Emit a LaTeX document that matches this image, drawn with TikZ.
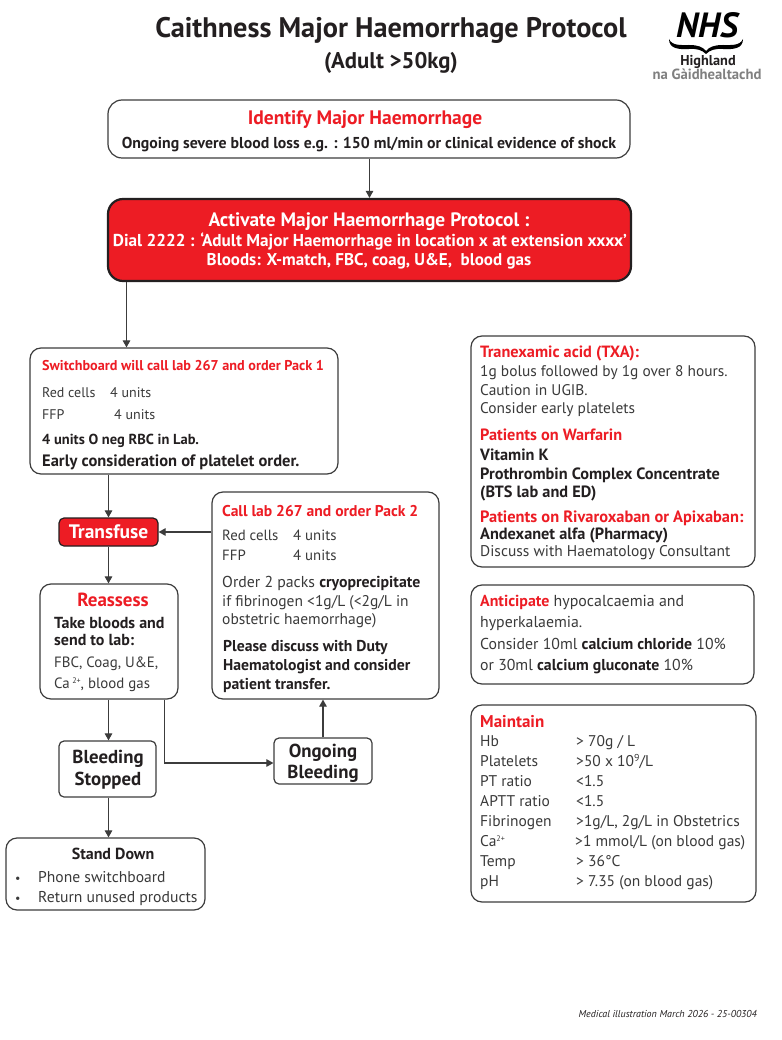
\documentclass[tikz,border=0pt]{standalone}
\usepackage{fontspec}
\setmainfont{PT Sans}
\usetikzlibrary{arrows.meta,calc}
\definecolor{nred}{HTML}{ED1C24}
\definecolor{ink}{HTML}{231F20}
\definecolor{body}{HTML}{3A3A3A}
\definecolor{edge}{HTML}{3C3C3C}
\tikzset{
  box/.style={draw=edge,line width=1.2pt,rounded corners=11pt,fill=white,inner sep=0pt},
  smallbox/.style={box,rounded corners=5pt},
  redbox/.style={box,draw=ink,fill=nred,line width=2.2pt,rounded corners=15pt},
  arr/.style={draw=edge,line width=1.1pt,-{Triangle[length=7pt,width=7.5pt]}},
  tw/.style={anchor=base west,inner sep=0pt,text=body},
  tc/.style={anchor=base,inner sep=0pt,text=ink},
}
\newcommand{\bx}[6][box]{\node[#1,minimum width=#4pt-#3pt,minimum height=#6pt-#5pt] (#2) at ({(#3+#4)/2},{(#5+#6)/2}) {};}
\newcommand{\tl}[6][tw]{\node[#1,font=\fontsize{#5}{#5}\selectfont] (#2) at (#3,#4) {#6};}
\newcommand{\tb}[6][tw]{\node[#1,text=ink,font=\fontsize{#5}{#5}\selectfont\bfseries] (#2) at (#3,#4) {#6};}
\newcommand{\tr}[6][tw]{\node[#1,text=nred,font=\fontsize{#5}{#5}\selectfont\bfseries] (#2) at (#3,#4) {#6};}
\begin{document}
\begin{tikzpicture}[x=1pt,y=-1pt]
\useasboundingbox (0,0) rectangle (781,1040);
\fill[white] (0,0) rectangle (781,1040);
% title
\tb[tc]{title}{391}{38}{28.3}{Caithness Major Haemorrhage Protocol}
\tb[tc]{subtitle}{391}{69}{22.7}{(Adult >50kg)}
% logo
\node[tc,font=\fontsize{35}{35}\selectfont\bfseries\itshape,text=black] (nhs) at (707,38) {NHS};
\fill[black] (669,39) .. controls (672,46) and (681,45) .. (689,45) .. controls (698,45) and (703,47) .. (706,51) .. controls (709,47) and (714,45) .. (723,45) .. controls (731,45) and (740,46) .. (743,39) .. controls (743,49) and (733,49.5) .. (723,49) .. controls (715,48.5) and (710,50) .. (706,54) .. controls (702,50) and (697,48.5) .. (689,49) .. controls (679,49.5) and (669,49) .. (669,39) -- cycle;
\tb[tc]{hl}{708}{66}{14.3}{Highland}
\node[tc,font=\fontsize{14.7}{14.7}\selectfont\bfseries,text=gray] (gaelic) at (707,80) {na Gàidhealtachd};
% boxes
\bx[box,rounded corners=14pt]{identify}{108}{630}{100}{158}
\bx[redbox]{activate}{108}{631}{199}{281}
\bx{sw}{30}{338}{348}{474}
\bx[smallbox,fill=nred,draw=ink]{transfuse}{59}{158}{518}{546}
\bx{pack}{212}{439}{492}{699}
\bx{reassess}{40}{178}{584}{699}
\bx[smallbox]{stopped}{59}{156}{741}{797}
\bx[smallbox]{ongoing}{274}{372}{738}{784}
\bx{stand}{6}{205}{838}{910}
\bx{txa}{471}{755}{336}{567}
\bx{antic}{471}{754}{585}{684}
\bx{maintain}{471}{756}{705}{902}
% connectors
\coordinate (xa) at (126.5,300);
\coordinate (xb) at (108.5,500);
\coordinate (xe) at (164.5,699);
\coordinate (xo) at (323,763);
\draw[arr] (identify.south -| activate.north) -- (activate.north);
\draw[arr] (activate.south -| xa) -- (sw.north -| xa);
\draw[arr] (sw.south -| xb) -- (transfuse.north -| xb);
\draw[arr] (transfuse.south -| xb) -- (reassess.north -| xb);
\draw[arr] (reassess.south -| xb) -- (stopped.north -| xb);
\draw[arr] (stopped.south -| xb) -- (stand.north -| xb);
\draw[arr] (pack.west |- transfuse.east) -- (transfuse.east);
\draw[arr] (ongoing.north -| xo) -- (pack.south -| xo);
\draw[arr] (reassess.south -| xe) |- (ongoing.west |- xo);
% identify
\tr[tc]{i1}{365}{125}{19.5}{Identify Major Haemorrhage}
\tb[tc]{i2}{369}{149}{15.8}{Ongoing severe blood loss e.g. : 150 ml/min or clinical evidence of shock}
% activate
\node[tc,text=white,font=\fontsize{19.4}{19.4}\selectfont\bfseries] (a1) at (369,227) {Activate Major Haemorrhage Protocol :};
\node[tc,text=white,font=\fontsize{17.2}{17.2}\selectfont\bfseries] (a2) at (370,246.5) {Dial 2222 : ‘Adult Major Haemorrhage in location x at extension xxxx’};
\node[tc,text=white,font=\fontsize{17}{17}\selectfont\bfseries] (a3) at (369,266) {Bloods: X-match, FBC, coag, U\&E,\ \ blood gas};
% switchboard
\tr{s1}{42}{370}{14.2}{Switchboard will call lab 267 and order Pack 1}
\tl{s2}{42}{397}{14}{Red cells}
\tl{s2b}{110}{397}{14}{4 units}
\tl{s3}{42}{419}{14}{FFP}
\tl{s3b}{114}{419}{14}{4 units}
\tb{s4}{42}{444}{14.5}{4 units O neg RBC in Lab.}
\tb{s5}{42}{466.5}{16.5}{Early consideration of platelet order.}
% transfuse
\node[tc,text=white,font=\fontsize{19.5}{19.5}\selectfont\bfseries] (t1) at (108.5,538.5) {Transfuse};
% pack 2
\tr{p1}{222}{516}{15.6}{Call lab 267 and order Pack 2}
\tl{p2}{222}{540}{14.8}{Red cells}
\tl{p2b}{293}{540}{14.8}{4 units}
\tl{p3}{222}{560}{14.8}{FFP}
\tl{p3b}{293}{560}{14.8}{4 units}
\node[tw,font=\fontsize{15.8}{15.8}\selectfont] (p4) at (222,587) {Order 2 packs \textcolor{ink}{\bfseries cryoprecipitate}};
\tl{p5}{222}{606}{15.5}{if fibrinogen <1g/L (<2g/L in}
\tl{p6}{222}{624}{15.5}{obstetric haemorrhage)}
\tb{p7}{223}{651}{15.7}{Please discuss with Duty}
\tb{p8}{223}{670}{15.7}{Haematologist and consider}
\tb{p9}{223}{689}{15.7}{patient transfer.}
% reassess
\tr[tc]{r1}{113}{606.5}{19}{Reassess}
\tb{r2}{54}{628}{16}{Take bloods and}
\tb{r3}{54}{645}{16}{send to lab:}
\tl{r4}{54}{667}{14.9}{FBC, Coag, U\&E,}
\node[tw,font=\fontsize{14.9}{14.9}\selectfont] (r5) at (54,688) {Ca\,{\fontsize{8}{8}\selectfont\raisebox{5pt}{2+}}, blood gas};
% stopped / ongoing
\tb[tc]{b1}{108}{763.5}{18.8}{Bleeding}
\tb[tc]{b2}{108}{785}{18.8}{Stopped}
\tb[tc]{g1}{323}{757}{18.8}{Ongoing}
\tb[tc]{g2}{323}{778}{18.8}{Bleeding}
% stand down
\tb[tc]{d1}{113}{859.5}{16}{Stand Down}
\tl{d2}{15}{882}{12}{•}
\tl{d3}{38}{882}{15.6}{Phone switchboard}
\tl{d4}{15}{902}{12}{•}
\tl{d5}{38}{902}{15.7}{Return unused products}
% txa
\tr{x1}{480}{357}{16.3}{Tranexamic acid (TXA):}
\tl{x2}{480}{376}{15.4}{1g bolus followed by 1g over 8 hours.}
\tl{x3}{480}{395}{15.4}{Caution in UGIB.}
\tl{x4}{480}{413}{15.4}{Consider early platelets}
\tr{x5}{480}{440}{16.3}{Patients on Warfarin}
\tb{x6}{480}{460}{16.3}{Vitamin K}
\tb{x7}{480}{479}{16.3}{Prothrombin Complex Concentrate}
\tb{x8}{480}{497}{16.3}{(BTS lab and ED)}
\tr{x9}{480}{522}{16.4}{Patients on Rivaroxaban or Apixaban:}
\tb{x10}{480}{539}{16.3}{Andexanet alfa (Pharmacy)}
\tl{x11}{480}{556}{15.5}{Discuss with Haematology Consultant}
% anticipate
\node[tw,font=\fontsize{15.9}{15.9}\selectfont] (n1) at (480,606) {\textcolor{nred}{\bfseries Anticipate} hypocalcaemia and};
\tl{n2}{480}{627}{15.8}{hyperkalaemia.}
\node[tw,font=\fontsize{15.8}{15.8}\selectfont] (n3) at (480,649) {Consider 10ml \textcolor{ink}{\bfseries calcium chloride} 10\%};
\node[tw,font=\fontsize{15.8}{15.8}\selectfont] (n4) at (480,670) {or 30ml \textcolor{ink}{\bfseries calcium gluconate} 10\%};
% maintain
\tr{m0}{480}{727}{17}{Maintain}
\tl{m1}{480}{746.5}{15.5}{Hb}
\tl{m1b}{576}{746.5}{15.5}{> 70g / L}
\tl{m2}{480}{766}{15.5}{Platelets}
\node[tw,font=\fontsize{15.5}{15.5}\selectfont] (m2b) at (576,766) {>50 x 10\raisebox{5pt}{\fontsize{10}{10}\selectfont 9}/L};
\tl{m3}{480}{786}{15.5}{PT ratio}
\tl{m3b}{576}{786}{15.5}{<1.5}
\tl{m4}{480}{806}{15.5}{APTT ratio}
\tl{m4b}{576}{806}{15.5}{<1.5}
\tl{m5}{480}{826}{15.5}{Fibrinogen}
\tl{m5b}{576}{826}{15.5}{>1g/L, 2g/L in Obstetrics}
\node[tw,font=\fontsize{15.5}{15.5}\selectfont] (m6) at (480,846) {Ca\raisebox{5pt}{\fontsize{8}{8}\selectfont 2+}};
\tl{m6b}{575}{846}{15.5}{>1 mmol/L (on blood gas)}
\tl{m7}{480}{866}{15.5}{Temp}
\tl{m7b}{576}{866}{15.5}{> 36°C}
\tl{m8}{480}{886}{15.5}{pH}
\tl{m8b}{576}{886}{15.5}{> 7.35 (on blood gas)}
% footer
\node[anchor=base east,inner sep=0pt,text=ink,font=\fontsize{10}{10}\selectfont\itshape] (foot) at (757,1017) {Medical illustration March 2026 - 25-00304};
\end{tikzpicture}
\end{document}
